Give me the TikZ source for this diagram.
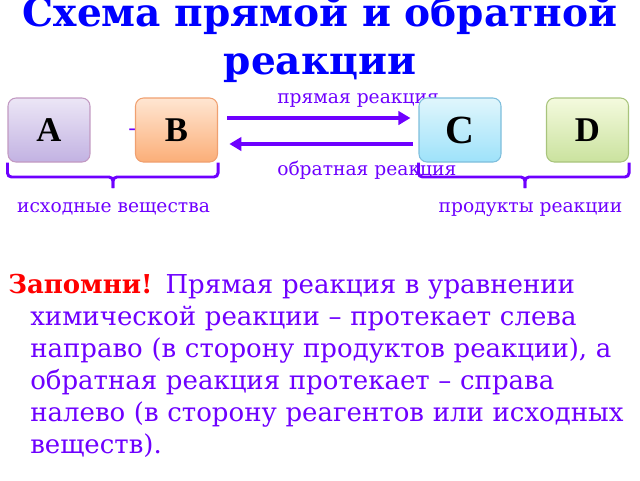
\documentclass[tikz,border=0pt]{standalone}
\usepackage{fontspec}
\setmainfont{DejaVu Serif}
\newfontfamily\letterfont{Liberation Serif}
\usetikzlibrary{arrows.meta}
\definecolor{reactviolet}{RGB}{110,0,255}
\definecolor{titleblue}{RGB}{0,0,255}

\begin{document}
\begin{tikzpicture}[
            x=0.75pt, y=-0.75pt,          % 1 = 1px
            box/.style={
                rounded corners=6pt,
                minimum width=61.5pt,
                minimum height=48pt,
                inner sep=0pt,
                line width=0.8pt,
                font=\letterfont\bfseries\fontsize{26}{26}\selectfont
            },
            lbl/.style={text=reactviolet, inner sep=0pt, font=\fontsize{14}{14}\selectfont},
            arrow/.style={-{Triangle[length=9pt,width=10pt]}, line width=3.4pt, draw=reactviolet},
            brace/.style={draw=reactviolet, line width=2.2pt, rounded corners=3pt}
        ]
            \useasboundingbox (0,0) rectangle (640,480);

            % заголовок
            \node[text=titleblue, align=center, inner sep=0pt, anchor=base,
                  font=\bfseries\fontsize{29.3}{36}\selectfont] (title) at (320,74)
                  {Схема прямой и обратной\\реакции};

            % подписи стрелок
            \node[lbl, anchor=base west] (fwd) at (277,103) {прямая реакция};
            \node[lbl, anchor=base west] (bwd) at (277,175) {обратная реакция};

            % плюс
            \node[text=reactviolet, inner sep=0pt, font=\fontsize{16}{16}\selectfont] (plus) at (136,130) {+};

            % узлы
            \node[box, draw=black!20!violet!40, top color={rgb,255:red,236;green,230;blue,246}, bottom color={rgb,255:red,194;green,178;blue,226}] (A) at (49,130) {A};
            \node[box, draw={rgb,255:red,240;green,160;blue,112}, top color={rgb,255:red,255;green,230;blue,210}, bottom color={rgb,255:red,251;green,174;blue,120}] (B) at (176.5,130) {B};
            \node[box, draw={rgb,255:red,126;green,190;blue,220}, top color={rgb,255:red,224;green,246;blue,252}, bottom color={rgb,255:red,158;green,226;blue,250}, font=\letterfont\bfseries\fontsize{30}{30}\selectfont] (C) at (460,130) {C};
            \node[box, draw={rgb,255:red,168;green,196;blue,124}, top color={rgb,255:red,244;green,250;blue,222}, bottom color={rgb,255:red,202;green,226;blue,158}] (D) at (587.5,130) {D};

            % стрелки
            \draw[arrow, shorten <=7pt, shorten >=6pt] ([yshift=9pt]B.east) -- ([yshift=9pt]C.west);
            \draw[arrow, shorten <=4pt, shorten >=8.5pt] ([yshift=-10.5pt]C.west) -- ([yshift=-10.5pt]B.east);

            % скобки
            \coordinate (tl) at (113,177);
            \coordinate (tr) at (525,177);
            \draw[brace] (A.south west) |- (tl) -- ++(0,11);
            \draw[brace] (B.south east) |- (tl) -- ++(0,11);
            \draw[brace] (C.south west) |- (tr) -- ++(0,11);
            \draw[brace] (D.south east) |- (tr) -- ++(0,11);

            \node[lbl, anchor=base] (src) at (113.5,212) {исходные вещества};
            \node[lbl, anchor=base] (prod) at (530.5,212) {продукты реакции};

            % запомни
            \node[text=reactviolet, anchor=base west, inner sep=0pt, text width=480pt, align=left,
                  font=\fontsize{19.5}{24}\selectfont] (note) at (8,293)
                  {\textcolor{red}{\textbf{Запомни!}} Прямая реакция в уравнении\\
                   \hspace*{16.5pt}химической реакции – протекает слева\\
                   \hspace*{16.5pt}направо (в сторону продуктов реакции), а\\
                   \hspace*{16.5pt}обратная реакция протекает – справа\\
                   \hspace*{16.5pt}налево (в сторону реагентов или исходных\\
                   \hspace*{16.5pt}веществ).};
        \end{tikzpicture}
\end{document}
